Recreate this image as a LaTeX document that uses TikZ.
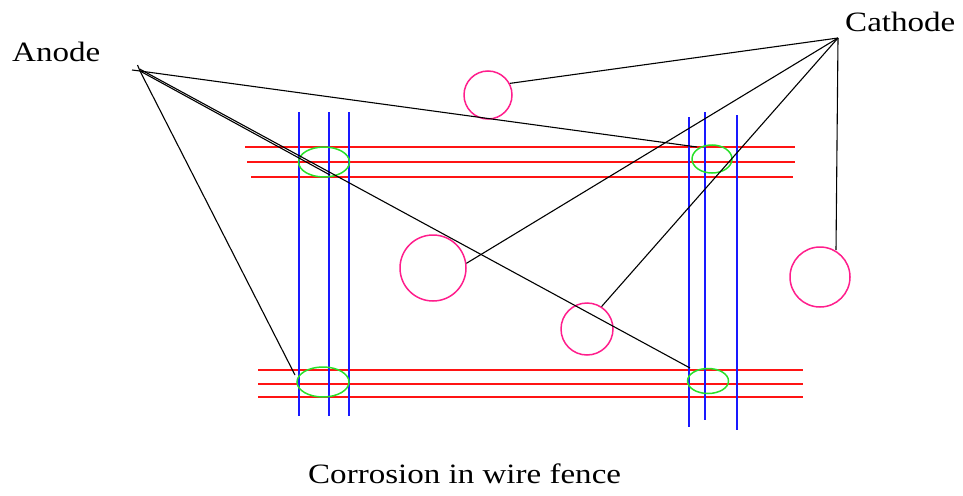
\documentclass[tikz,border=0pt]{standalone}
\usepackage{fontspec}
\setmainfont{Liberation Serif}
\usetikzlibrary{shapes.geometric}
\definecolor{wirered}{RGB}{255,20,20}
\definecolor{wireblue}{RGB}{25,25,255}
\definecolor{rustgreen}{RGB}{40,225,40}
\definecolor{pitpink}{RGB}{255,30,140}
\begin{document}
\begin{tikzpicture}[x=1pt,y=-1pt,
  redwire/.style={draw=wirered,line width=1.5pt},
  bluewire/.style={draw=wireblue,line width=1.5pt},
  rust/.style={ellipse,draw=rustgreen,line width=1.5pt,inner sep=0pt},
  pit/.style={circle,draw=pitpink,line width=1.5pt,inner sep=0pt},
  lead/.style={draw=black,line width=1.1pt},
  lbl/.style={font=\fontsize{28}{32}\selectfont,inner sep=0pt}]
\useasboundingbox (0,0) rectangle (963,495);

% labels
\node[lbl,anchor=base west] (anodelbl) at (12,62) {\scalebox{1.18}[1]{Anode}};
\node[lbl,anchor=base west] (cathodelbl) at (845,32) {\scalebox{1.18}[1]{Cathode}};
\node[lbl,anchor=base west] (caption) at (308,483) {\scalebox{1.18}[1]{Corrosion in wire fence}};

% red horizontal wires
\draw[redwire] (245,147) -- (795,147);
\draw[redwire] (247,162) -- (795,162);
\draw[redwire] (251,177) -- (793,177);
\draw[redwire] (258,370) -- (803,370);
\draw[redwire] (258,384) -- (803,384);
\draw[redwire] (258,397) -- (803,397);

% blue vertical wires
\draw[bluewire] (299,112) -- (299,416);
\draw[bluewire] (329,112) -- (329,416);
\draw[bluewire] (349,112) -- (349,416);
\draw[bluewire] (689,117) -- (689,427);
\draw[bluewire] (705,112) -- (705,420);
\draw[bluewire] (737,115) -- (737,430);

% green corrosion ellipses
\node[rust,minimum width=51pt,minimum height=30pt] (tl) at (324,162) {};
\node[rust,minimum width=40pt,minimum height=28pt] (tr) at (712,159) {};
\node[rust,minimum width=52pt,minimum height=30pt] (bl) at (323,382) {};
\node[rust,minimum width=41pt,minimum height=25pt] (br) at (708,381) {};

% pink circles
\node[pit,minimum size=48pt] (p1) at (488,95) {};
\node[pit,minimum size=66pt] (p2) at (433,268) {};
\node[pit,minimum size=52pt] (p3) at (587,329) {};
\node[pit,minimum size=60pt] (p4) at (820,277) {};

% electrode points and wire contacts
\coordinate (A) at (140,71);
\coordinate (C) at (838,38);
\coordinate (trc) at (697,147);
\coordinate (tlc) at (330,175);
\coordinate (brc) at (690,368);
\coordinate (blc) at (295,375);
\coordinate (C4) at (836,250);

% leads from anode
\draw[lead] (A) -- (trc);
\draw[lead] (A) -- (tlc);
\draw[lead] ([yshift=1.8pt]A) -- (brc);
\draw[lead] (A) -- (blc);
\draw[lead] (A) -- ++(-8,-1);
\draw[lead] (A) -- ++(-2.5,-6);

% leads from cathode
\draw[lead] (C) -- (p1.28);
\draw[lead] (C) -- (p2.8);
\draw[lead] (C) -- (p3.57);
\draw[lead] (C) -- (C4);
\end{tikzpicture}
\end{document}
